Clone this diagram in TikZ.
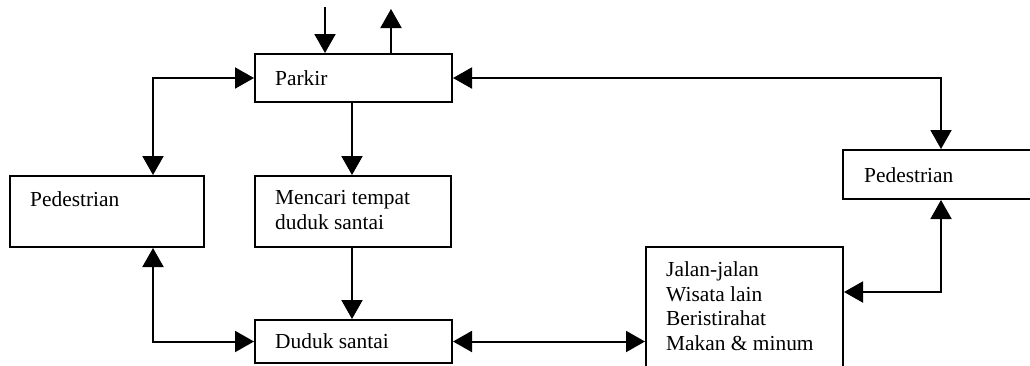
\documentclass[tikz,border=0pt]{standalone}
\usepackage{fontspec}
\setmainfont{Liberation Serif}
\usetikzlibrary{arrows.meta}
\begin{document}
\begin{tikzpicture}[x=1pt,y=-1pt,
  box/.style={draw,line width=2pt,anchor=north west,inner sep=0pt,minimum width=#1},
  txt/.style={anchor=base west,inner sep=0pt,font=\fontsize{21.4}{24.5}\selectfont,align=left},
  link/.style={line width=2pt},
  tip/.style={-{Triangle[width=21pt,length=19pt]}},
  both/.style={{Triangle[width=21pt,length=19pt]}-{Triangle[width=21pt,length=19pt]}}]
\useasboundingbox (0,0) rectangle (1030,365);

% boxes
\node[box=197pt,minimum height=48pt] (parkir) at (254,53) {};
\node[box=194pt,minimum height=71pt] (pedL) at (9,175) {};
\node[box=196pt,minimum height=71pt] (mencari) at (254,175) {};
\node[box=197pt,minimum height=43pt] (duduk) at (254,319) {};
\node[box=197pt,minimum height=130pt] (jalan) at (645,246) {};
\node[box=192pt,minimum height=49pt] (pedR) at (842,149) {};

% labels (multi-line labels are placed by their last baseline)
\node[txt] (tparkir) at (275,85) {Parkir};
\node[txt] (tpedL) at (30,206) {Pedestrian};
\node[txt] (tmencari) at (275,229) {Mencari tempat\\duduk santai};
\node[txt] (tduduk) at (275,348) {Duduk santai};
\node[txt] (tjalan) at (666,350) {Jalan-jalan\\Wisata lain\\Beristirahat\\Makan \& minum};
\node[txt] (tpedR) at (864,182) {Pedestrian};

% column and row guides for the connectors
\coordinate (xIn) at (325,7);
\coordinate (xOut) at (391,9);
\coordinate (xL) at (153,0);
\coordinate (xM) at (352,0);
\coordinate (xR) at (941,0);
\coordinate (yR) at (0,292);

% connectors
\draw[link,tip] (xIn) -- (xIn |- parkir.north);
\draw[link,tip] (xOut |- parkir.north) -- (xOut);
\draw[link,both] (parkir.west) -| (xL |- pedL.north);
\draw[link,tip] (xM |- parkir.south) -- (xM |- mencari.north);
\draw[link,tip] (xM |- mencari.south) -- (xM |- duduk.north);
\draw[link,both] (xL |- pedL.south) |- (duduk.west);
\draw[link,both] (duduk.east) -- (jalan.west |- duduk.east);
\draw[link,both] (parkir.east) -| (xR |- pedR.north);
\draw[link,both] (xR |- pedR.south) |- (jalan.east |- yR);
\end{tikzpicture}
\end{document}
